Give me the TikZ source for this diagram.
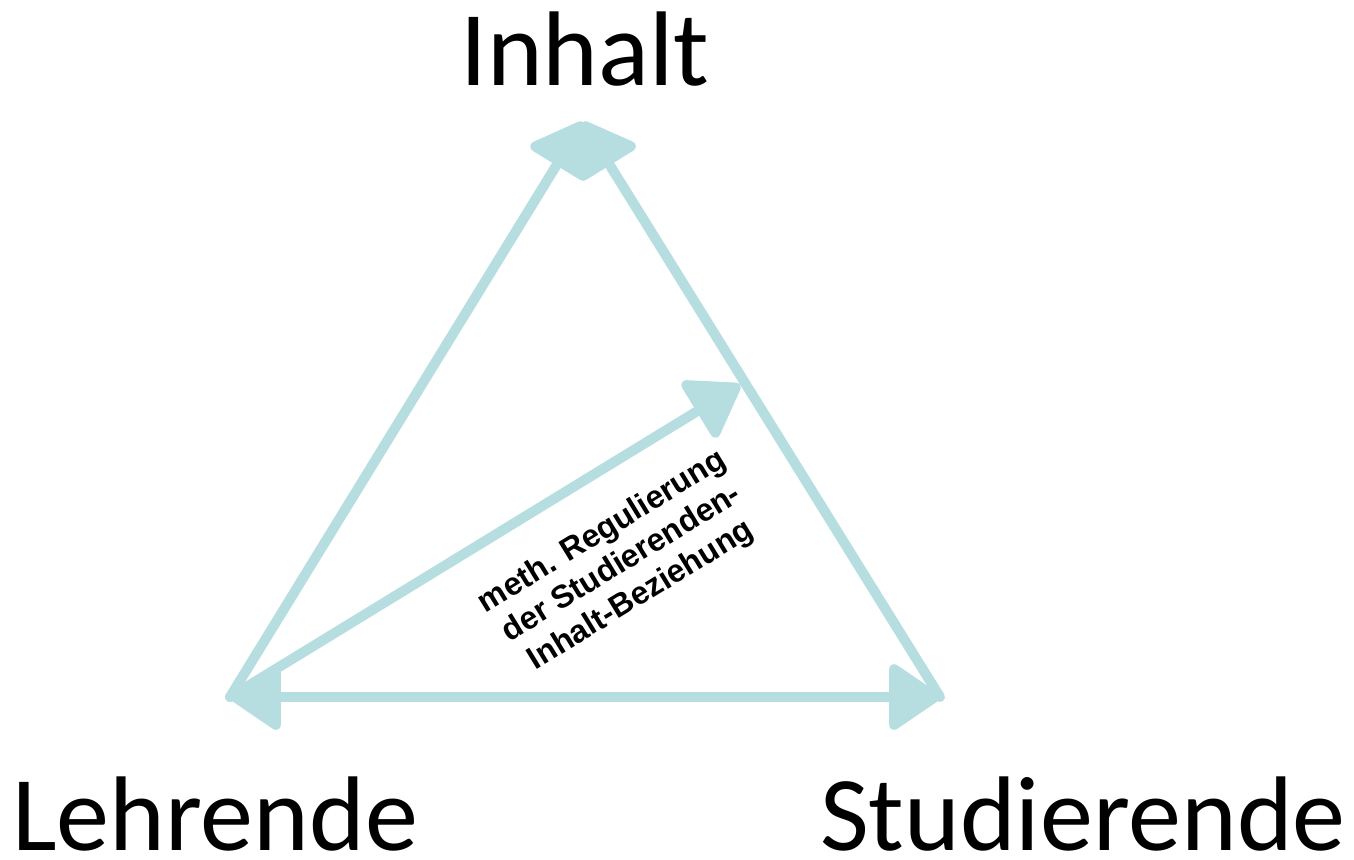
\documentclass[tikz,border=0pt]{standalone}
\usepackage{fontspec}
\setmainfont{Carlito}
\newfontfamily\arialfont{Liberation Sans}
\usetikzlibrary{arrows.meta}
\definecolor{teal1}{RGB}{182,221,224}
\begin{document}
\begin{tikzpicture}[
    corner/.style={inner sep=0pt, font=\fontsize{30.2}{32}\selectfont},
    edge/.style={line width=2.85pt, teal1, line join=round, line cap=round},
    arrow/.style={edge, -{Triangle[length=0.55cm, width=0.72cm, round]}},
    both/.style={edge, {Triangle[length=0.55cm, width=0.72cm, round]}-{Triangle[length=0.55cm, width=0.72cm, round]}},
    note/.style={align=center, font=\arialfont\bfseries\fontsize{9.1}{10.6}\selectfont, rotate=31.5}
]
    \useasboundingbox (0,0) rectangle (13.54,8.59);

    % Ecken
    \coordinate (top) at (5.83,7.37);
    \coordinate (left) at (2.30,1.62);
    \coordinate (right) at (9.40,1.62);
    \coordinate (mid) at (7.40,4.74);

    \node[corner, anchor=base] (inhalt) at (5.85,7.74) {Inhalt};
    \node[corner, anchor=base] (lehrende) at (2.15,0.09) {Lehrende};
    \node[corner, anchor=base] (studierende) at (10.83,0.09) {Studierende};

    % Pfeile
    \draw[arrow] (left) -- (top);
    \draw[arrow] (right) -- (top);
    \draw[both] (left) -- (right);
    \draw[arrow] (left) -- (mid);

    \node[note] (regulierung) at (6.22,2.95) {meth. Regulierung\\der Studierenden-\\Inhalt-Beziehung};
\end{tikzpicture}
\end{document}
